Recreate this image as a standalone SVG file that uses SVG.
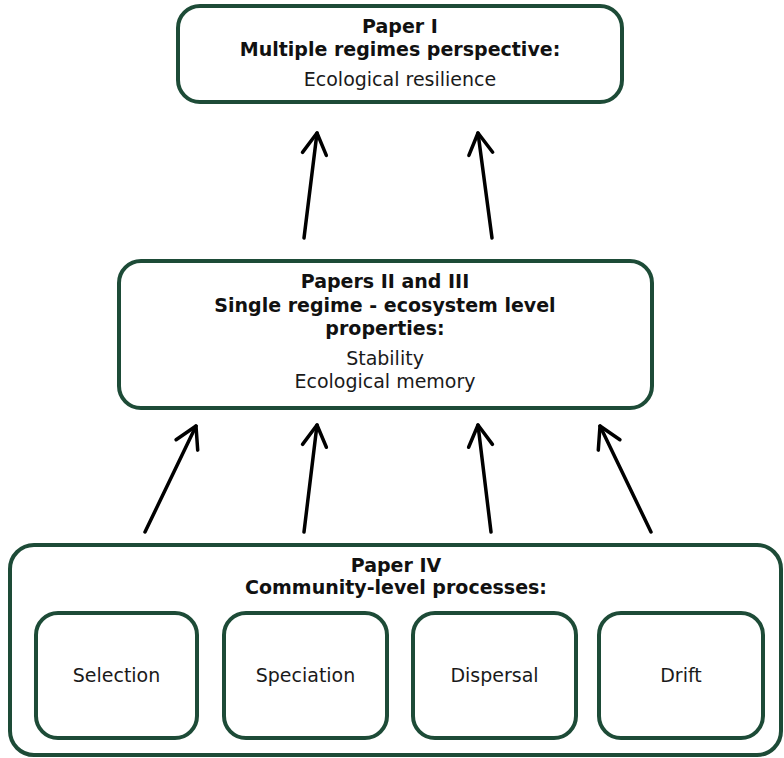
<svg xmlns="http://www.w3.org/2000/svg" width="784" height="758" viewBox="0 0 784 758">
<defs>
<style>
.box{fill:#fff;stroke:#1d4b37;stroke-width:4}
.b{font-family:"DejaVu Sans",Verdana,sans-serif;font-size:19px;font-weight:bold;fill:#111;text-anchor:middle}
.r{font-family:"DejaVu Sans",Verdana,sans-serif;font-size:19px;fill:#1a1a1a;text-anchor:middle}
.arr{stroke:#000;stroke-width:3.5;fill:none;stroke-linecap:round;marker-end:url(#ah)}
</style>
<marker id="ah" markerUnits="userSpaceOnUse" orient="auto" markerWidth="1" markerHeight="1" refX="0" refY="0" overflow="visible">
<path d="M-21,-12 L0,0 L-21,12" fill="none" stroke="#000" stroke-width="3.5" stroke-linecap="round" stroke-linejoin="round"/>
</marker>
</defs>
<rect width="784" height="758" fill="#fff"/>
<g id="paper1">
<rect class="box" x="178" y="6" width="444" height="96" rx="22"/>
<text class="b" x="400" y="33">Paper I</text>
<text class="b" x="400" y="56">Multiple regimes perspective:</text>
<text class="r" x="400" y="86">Ecological resilience</text>
</g>
<g id="papers2and3">
<rect class="box" x="119" y="261" width="533" height="147" rx="22"/>
<text class="b" x="385" y="288">Papers II and III</text>
<text class="b" x="385" y="312">Single regime - ecosystem level</text>
<text class="b" x="385" y="335">properties:</text>
<text class="r" x="385" y="365">Stability</text>
<text class="r" x="385" y="388">Ecological memory</text>
</g>
<g id="paper4">
<rect class="box" x="10" y="545" width="771" height="210" rx="24"/>
<text class="b" x="396" y="572">Paper IV</text>
<text class="b" x="396" y="594">Community-level processes:</text>
</g>
<g id="selection">
<rect class="box" x="36" y="613" width="161" height="125" rx="22"/>
<text class="r" x="116.5" y="682">Selection</text>
</g>
<g id="speciation">
<rect class="box" x="224" y="613" width="163" height="125" rx="22"/>
<text class="r" x="305.5" y="682">Speciation</text>
</g>
<g id="dispersal">
<rect class="box" x="413" y="613" width="163" height="125" rx="22"/>
<text class="r" x="494.5" y="682">Dispersal</text>
</g>
<g id="drift">
<rect class="box" x="599" y="613" width="164" height="125" rx="22"/>
<text class="r" x="681" y="682">Drift</text>
</g>
<g id="connectors">
<line class="arr" x1="304" y1="238" x2="317" y2="133"/>
<line class="arr" x1="492" y1="238" x2="478" y2="133"/>
<line class="arr" x1="145" y1="532" x2="196" y2="426"/>
<line class="arr" x1="304" y1="532" x2="317" y2="425"/>
<line class="arr" x1="491" y1="532" x2="478" y2="425"/>
<line class="arr" x1="651" y1="532" x2="600" y2="426"/>
</g>
</svg>
